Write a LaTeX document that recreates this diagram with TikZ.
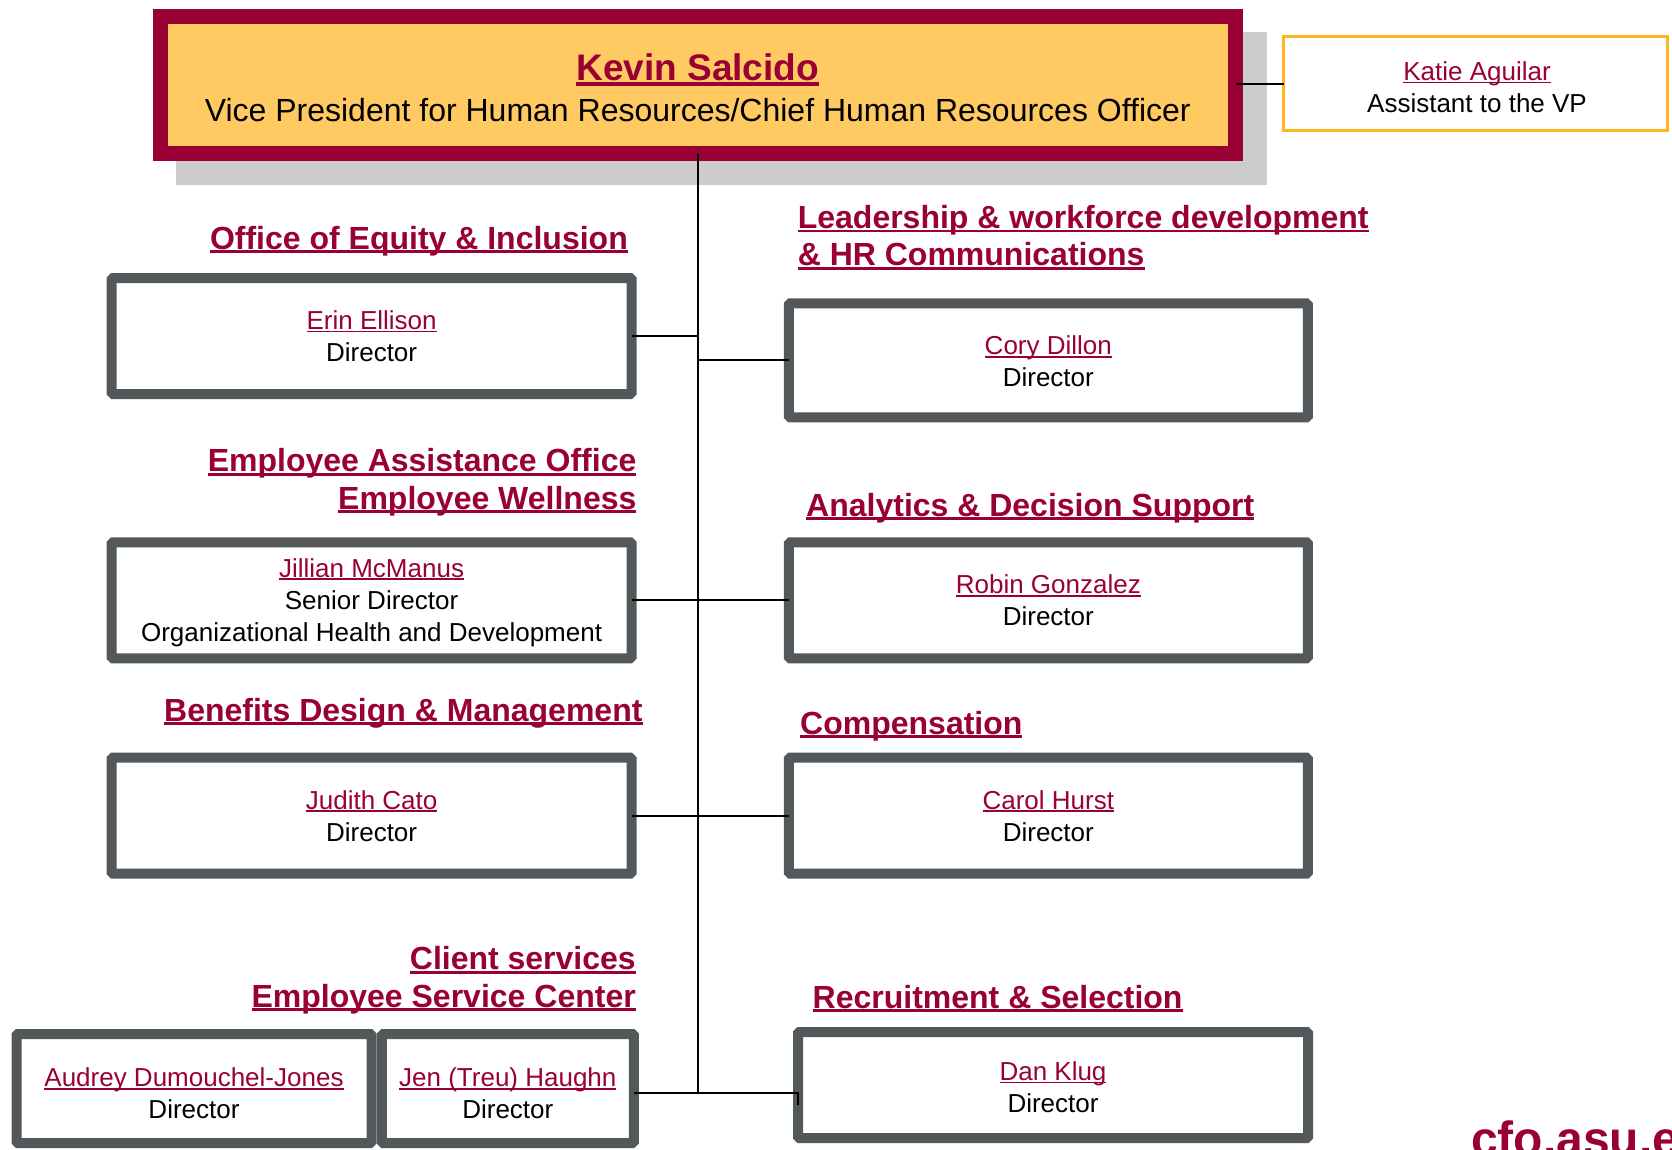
\documentclass[tikz,border=0pt]{standalone}
\usepackage{fontspec}
\setmainfont{Liberation Sans}
\definecolor{maroon}{HTML}{990033}
\definecolor{vpyellow}{HTML}{FFCA62}
\definecolor{boxgray}{HTML}{53585B}
\definecolor{shadowgray}{HTML}{CCCCCC}
\definecolor{gold}{HTML}{FFB519}
\newcommand\uln[1]{\leavevmode\setbox0\hbox{#1}\rlap{\rule[-0.12em]{\wd0}{0.065em}}\box0}
\newcommand\ulh[1]{\leavevmode\setbox0\hbox{#1}\rlap{\rule[-0.13em]{\wd0}{0.09em}}\box0}
\newcommand\nm[1]{\textcolor{maroon}{\uln{#1}}}
\begin{document}
\begin{tikzpicture}[x=1pt,y=-1pt,
  box/.style={draw=boxgray, line width=10pt, fill=white, inner sep=0pt, outer sep=0pt,
    minimum width=#1, rounded corners=1.5pt},
  box/.default=520pt,
  boxtext/.style={align=center, font=\fontsize{26}{32}\selectfont, inner sep=0pt},
  head/.style={font=\fontsize{32}{37.5}\selectfont\bfseries, text=maroon, inner sep=0pt},
  conn/.style={draw=black, line width=2pt}]
\useasboundingbox (0,0) rectangle (1672,1149);
% shadow of the top box
\fill[shadowgray] (176,32) rectangle (1267,184.5);
% top box
\node[draw=maroon, line width=15pt, fill=vpyellow, minimum width=1075.5pt, minimum height=137.5pt,
  inner sep=0pt, outer sep=0pt] (vp) at (697.75,84.75) {};
\node[align=center, inner sep=0pt] (vpt) at (697.75,88)
  {{\fontsize{37}{42}\selectfont\bfseries\textcolor{maroon}{\ulh{Kevin Salcido}}}\\[12pt]
   {\fontsize{32}{36}\selectfont Vice President for Human Resources/Chief Human Resources Officer}};
\node[draw=gold, line width=3pt, fill=white, minimum width=384pt, minimum height=94pt,
  inner sep=0pt, outer sep=0pt] (katie) at (1475.5,83.5) {};
\node[boxtext] (katiet) at (1477,87) {\nm{Katie Aguilar}\\Assistant to the VP};
\coordinate (tk) at (697.75,1092.7);
% connectors
\draw[conn] (vp.south) -- (tk);
\draw[conn] (vp.east |- katie.west) -- (katie.west);
% boxes
\node[box, minimum height=116pt] (erin) at (371.6,336) {};
\node[boxtext] at (erin.center) {\nm{Erin Ellison}\\Director};
\node[box, minimum height=116pt] (jillian) at (371.6,600.3) {};
\node[boxtext] at ([yshift=-2pt]jillian.center)
  {\nm{Jillian McManus}\\Senior Director\\Organizational Health and Development};
\node[box, minimum height=116pt] (judith) at (371.6,815.7) {};
\node[boxtext] at (judith.center) {\nm{Judith Cato}\\Director};
\node[box=519pt, minimum height=114pt] (cory) at (1048.3,360.4) {};
\node[boxtext] at ([yshift=-1pt]cory.center) {\nm{Cory Dillon}\\Director};
\node[box=519pt, minimum height=116pt] (robin) at (1048.3,600.3) {};
\node[boxtext] at (robin.center) {\nm{Robin Gonzalez}\\Director};
\node[box=519pt, minimum height=116pt] (carol) at (1048.3,815.7) {};
\node[boxtext] at (carol.center) {\nm{Carol Hurst}\\Director};
\node[box=510pt, minimum height=106pt] (dan) at (1053,1085) {};
\node[boxtext] at ([yshift=-2pt]dan.center) {\nm{Dan Klug}\\Director};
\node[box=355pt, minimum height=109pt] (audrey) at (194,1088.5) {};
\node[boxtext] at ([yshift=-5pt]audrey.center) {\nm{Audrey Dumouchel-Jones}\\Director};
\node[box=252pt, minimum height=109pt] (jen) at (507.8,1088.5) {};
\node[boxtext] at ([yshift=-5pt]jen.center) {\nm{Jen (Treu) Haughn}\\Director};
% connectors to boxes
\draw[conn] (erin.east) -- (erin.east -| tk);
\draw[conn] (cory.west) -- (cory.west -| tk);
\draw[conn] (jillian.east) -- (robin.west);
\draw[conn] (judith.east) -- (carol.west);
\draw[conn] (jen.east |- tk) -- (tk) -- (tk -| dan.west) -- ++(0,12);
% headings
\node[head, anchor=mid east] (h1) at (628,246.5) {\ulh{Office of Equity \& Inclusion}};
\node[head, anchor=west, align=left] (h2) at (797.6,237.5)
  {\ulh{Leadership \& workforce development}\\\ulh{\& HR Communications}};
\node[head, anchor=east, align=right] (h3) at (636.6,482)
  {\ulh{Employee Assistance Office}\\\ulh{Employee Wellness}};
\node[head, anchor=mid west] (h4) at (806,513.5) {\ulh{Analytics \& Decision Support}};
\node[head, anchor=mid west] (h5) at (164,718.5) {\ulh{Benefits Design \& Management}};
\node[head, anchor=mid west] (h6) at (800,731.5) {\ulh{Compensation}};
\node[head, anchor=east, align=right] (h7) at (636,980)
  {\ulh{Client services}\\\ulh{Employee Service Center}};
\node[head, anchor=mid west] (h8) at (812.5,1005.5) {\ulh{Recruitment \& Selection}};
\begin{scope}
\clip (0,0) rectangle (1672,1149);
\node[anchor=base west, inner sep=0pt, font=\fontsize{48}{48}\selectfont\bfseries, text=maroon] (cfo)
  at (1471,1155) {cfo.asu.edu};
\end{scope}
\end{tikzpicture}
\end{document}
